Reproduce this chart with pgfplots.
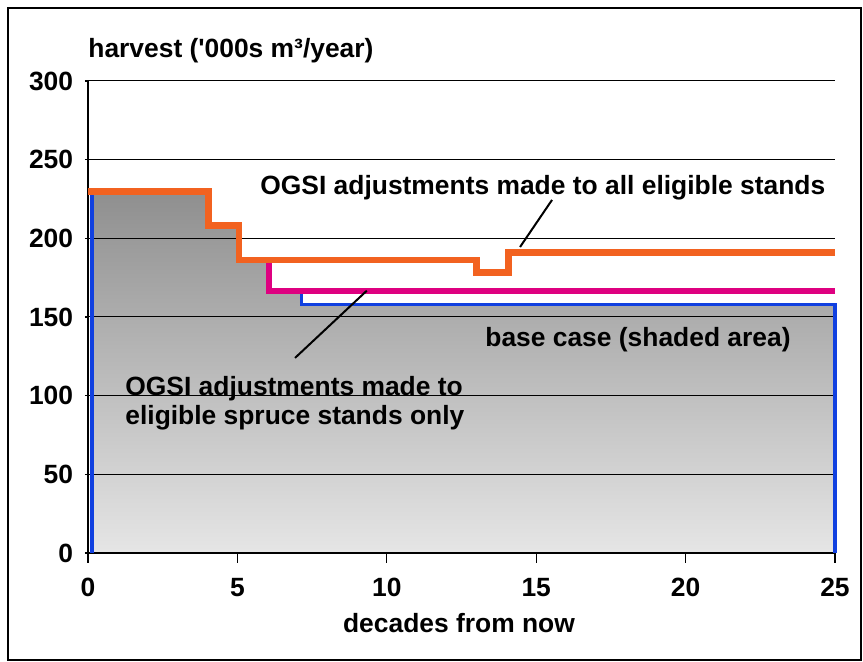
\documentclass[border=0pt]{standalone}
\usepackage{fontspec}
\setmainfont{Liberation Sans}
\usepackage{pgfplots}
\pgfplotsset{compat=1.18}
\definecolor{og}{RGB}{242,98,32}
\definecolor{mg}{RGB}{222,0,128}
\definecolor{bl}{RGB}{16,64,224}
\newcommand{\fs}{\bfseries\fontsize{13.2}{15.6}\selectfont}
\begin{document}
\begin{tikzpicture}
\useasboundingbox (0pt,0pt) rectangle (431.5pt,331pt);
\draw[line width=1pt] (4pt,327pt) rectangle (430.5pt,1pt);
% shaded base case fill
\begin{axis}[at={(44pt,54.5pt)}, anchor=south west, scale only axis,
  width=373.5pt, height=236pt, xmin=0, xmax=25, ymin=0, ymax=300,
  hide axis, clip=false]
\addplot[draw=none, top color=black!44, bottom color=black!10] coordinates {
 (0.13,0) (0.13,229.7) (4.04,229.7) (4.04,208.3) (5.05,208.3) (5.05,186.2) (6.06,186.2) (6.06,166.6)
 (7.14,166.6) (7.14,158) (25,158) (25,0)} -- cycle;
\end{axis}
\begin{axis}[at={(44pt,54.5pt)}, anchor=south west, scale only axis,
  width=373.5pt, height=236pt, xmin=0, xmax=25, ymin=0, ymax=300,
  axis lines=left, axis line style={-, line width=1pt},
  xtick={0,5,...,25}, ytick={0,50,...,300},
  tick align=outside, tick style={black, line width=0.6pt},
  xtick style={/pgfplots/major tick length=5pt},
  ytick style={/pgfplots/major tick length=1.5pt},
  ymajorgrids, grid style={black, line width=0.5pt},
  /pgf/number format/assume math mode=true,
  ticklabel style={font=\fs, inner sep=0pt},
  xticklabel style={yshift=-8pt},
  yticklabel style={xshift=-3pt},
  clip=false]
\addplot[bl, line width=1.8pt] coordinates {
 (0.13,0) (0.13,229.7) (4.04,229.7) (4.04,208.3) (5.05,208.3) (5.05,186.2) (6.06,186.2) (6.06,166.6)
 (7.14,166.6) (7.14,158) (25,158) (25,0)};
\addplot[mg, line width=3pt] coordinates {
 (0,229.7) (4.04,229.7) (4.04,208.3) (5.05,208.3) (5.05,186.2) (6.06,186.2) (6.06,166.6) (25,166.6)};
\addplot[og, line width=3.3pt] coordinates {
 (0,229.7) (4.04,229.7) (4.04,208.3) (5.05,208.3) (5.05,186.2) (13,186.2)
 (13,178.4) (14.07,178.4) (14.07,190.9) (25,190.9)};
\draw[black, line width=1pt] (axis cs:14.46,194.5) -- (axis cs:15.53,224.4);
\draw[black, line width=1pt] (axis cs:9.33,166.7) -- (axis cs:6.93,124);
\end{axis}
\node[font=\fs, anchor=base west, inner sep=0pt] at (44pt,302pt) {harvest (\textquotesingle 000s m³/year)};
\node[font=\fs, anchor=base west, inner sep=0pt] at (130pt,233.5pt) {OGSI adjustments made to all eligible stands};
\node[font=\fs, anchor=base west, inner sep=0pt] at (242.5pt,157.5pt) {base case (shaded area)};
\node[font=\fs, anchor=base west, inner sep=0pt] at (62.5pt,133pt) {OGSI adjustments made to};
\node[font=\fs, anchor=base west, inner sep=0pt] at (62.5pt,118.5pt) {eligible spruce stands only};
\node[font=\fs, anchor=base, inner sep=0pt] at (229.5pt,14.5pt) {decades from now};
\end{tikzpicture}
\end{document}
